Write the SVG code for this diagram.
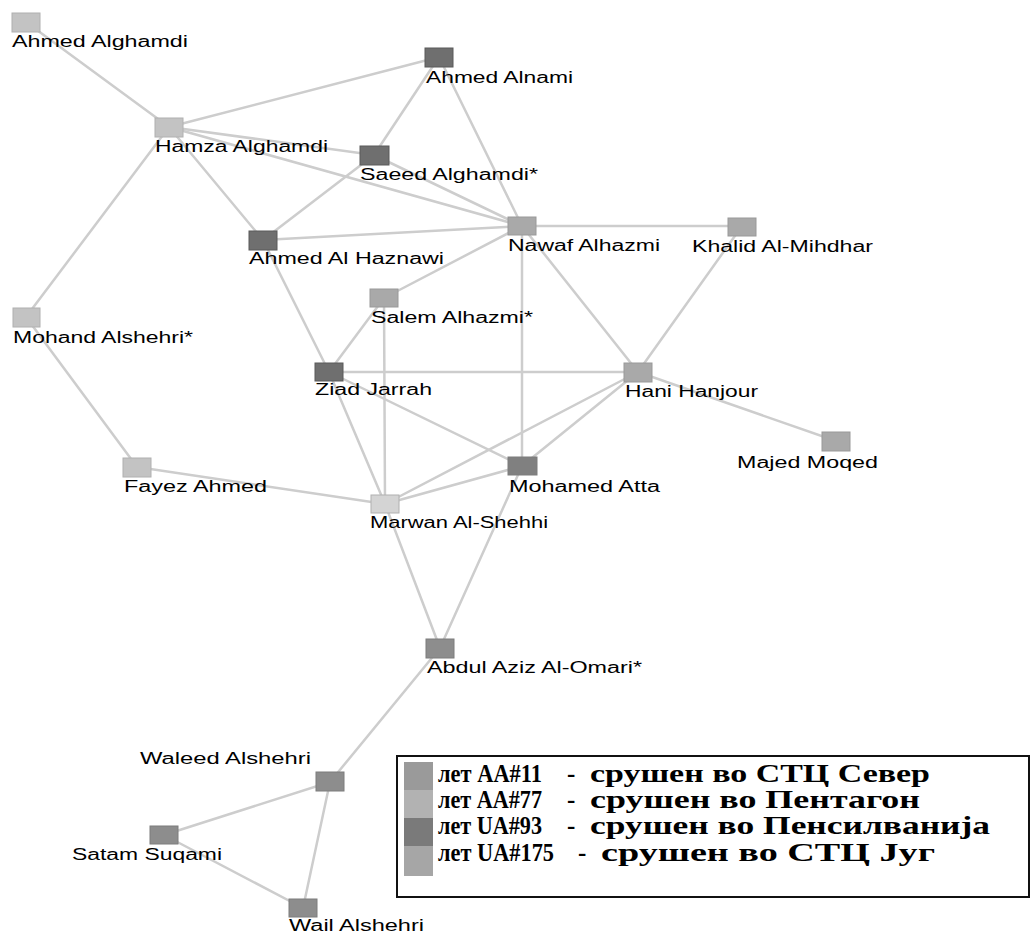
<svg xmlns="http://www.w3.org/2000/svg" width="1034" height="934" viewBox="0 0 1034 934">
<style>
.e{stroke:#cdcdcd;stroke-width:2.5;fill:none;stroke-linecap:round}
.n{stroke-width:1}
.aa11{fill:#8d8d8d;stroke:#7d7d7d}
.aa77{fill:#a9a9a9;stroke:#999}
.ua93{fill:#6f6f6f;stroke:#5a5a5a}
.ua175{fill:#c3c3c3;stroke:#b0b0b0}
.l{font-family:"Liberation Sans",Arial,sans-serif;font-size:16px;fill:#000}
.lg{font-family:"Liberation Serif","Times New Roman",serif;font-size:25px;font-weight:bold;fill:#000}
</style>
<rect width="1034" height="934" fill="#fff"/>
<g id="connectors">
<line class="e" x1="26" y1="22" x2="169" y2="127"/>
<line class="e" x1="169" y1="127" x2="439" y2="57"/>
<line class="e" x1="169" y1="127" x2="374" y2="155"/>
<line class="e" x1="169" y1="127" x2="522" y2="226"/>
<line class="e" x1="169" y1="127" x2="263" y2="240"/>
<line class="e" x1="169" y1="127" x2="26" y2="317"/>
<line class="e" x1="439" y1="57" x2="374" y2="155"/>
<line class="e" x1="439" y1="57" x2="522" y2="226"/>
<line class="e" x1="374" y1="155" x2="522" y2="226"/>
<line class="e" x1="374" y1="155" x2="263" y2="240"/>
<line class="e" x1="263" y1="240" x2="522" y2="226"/>
<line class="e" x1="522" y1="226" x2="742" y2="226"/>
<line class="e" x1="522" y1="226" x2="384" y2="298"/>
<line class="e" x1="522" y1="226" x2="522" y2="466"/>
<line class="e" x1="522" y1="226" x2="638" y2="372"/>
<line class="e" x1="742" y1="226" x2="638" y2="372"/>
<line class="e" x1="263" y1="240" x2="329" y2="372"/>
<line class="e" x1="384" y1="298" x2="329" y2="372"/>
<line class="e" x1="384" y1="298" x2="385" y2="504"/>
<line class="e" x1="329" y1="372" x2="638" y2="372"/>
<line class="e" x1="329" y1="372" x2="522" y2="466"/>
<line class="e" x1="329" y1="372" x2="385" y2="504"/>
<line class="e" x1="638" y1="372" x2="385" y2="504"/>
<line class="e" x1="638" y1="372" x2="522" y2="466"/>
<line class="e" x1="638" y1="372" x2="836" y2="441"/>
<line class="e" x1="137" y1="467" x2="385" y2="504"/>
<line class="e" x1="137" y1="467" x2="26" y2="317"/>
<line class="e" x1="522" y1="466" x2="385" y2="504"/>
<line class="e" x1="522" y1="466" x2="440" y2="648"/>
<line class="e" x1="385" y1="504" x2="440" y2="648"/>
<line class="e" x1="440" y1="648" x2="330" y2="782"/>
<line class="e" x1="330" y1="782" x2="164" y2="835"/>
<line class="e" x1="330" y1="782" x2="303" y2="908"/>
<line class="e" x1="164" y1="835" x2="303" y2="908"/>
</g>
<g id="n-ahmed-alghamdi"><rect class="n ua175" x="12" y="13" width="28" height="19"/><text class="l" x="12" y="47" textLength="176" lengthAdjust="spacingAndGlyphs">Ahmed Alghamdi</text></g>
<g id="n-hamza-alghamdi"><rect class="n ua175" x="155" y="118" width="28" height="19"/><text class="l" x="155" y="152" textLength="173" lengthAdjust="spacingAndGlyphs">Hamza Alghamdi</text></g>
<g id="n-ahmed-alnami"><rect class="n ua93" x="425" y="48" width="28" height="19"/><text class="l" x="426" y="83" textLength="147" lengthAdjust="spacingAndGlyphs">Ahmed Alnami</text></g>
<g id="n-saeed-alghamdi"><rect class="n ua93" x="360" y="146" width="29" height="19"/><text class="l" x="360" y="180" textLength="178" lengthAdjust="spacingAndGlyphs">Saeed Alghamdi*</text></g>
<g id="n-nawaf-alhazmi"><rect class="n aa77" x="508" y="217" width="28" height="18"/><text class="l" x="508" y="251" textLength="152" lengthAdjust="spacingAndGlyphs">Nawaf Alhazmi</text></g>
<g id="n-khalid-al-mihdhar"><rect class="n aa77" x="728" y="218" width="28" height="18"/><text class="l" x="692" y="252" textLength="181" lengthAdjust="spacingAndGlyphs">Khalid Al-Mihdhar</text></g>
<g id="n-ahmed-al-haznawi"><rect class="n ua93" x="249" y="231" width="28" height="19"/><text class="l" x="249" y="264" textLength="195" lengthAdjust="spacingAndGlyphs">Ahmed Al Haznawi</text></g>
<g id="n-salem-alhazmi"><rect class="n aa77" x="370" y="289" width="28" height="18"/><text class="l" x="371" y="323" textLength="162" lengthAdjust="spacingAndGlyphs">Salem Alhazmi*</text></g>
<g id="n-mohand-alshehri"><rect class="n ua175" x="13" y="308" width="27" height="19"/><text class="l" x="13" y="343" textLength="180" lengthAdjust="spacingAndGlyphs">Mohand Alshehri*</text></g>
<g id="n-ziad-jarrah"><rect class="n ua93" x="315" y="363" width="28" height="18"/><text class="l" x="315" y="395" textLength="117" lengthAdjust="spacingAndGlyphs">Ziad Jarrah</text></g>
<g id="n-hani-hanjour"><rect class="n aa77" x="624" y="363" width="28" height="19"/><text class="l" x="625" y="397" textLength="133" lengthAdjust="spacingAndGlyphs">Hani Hanjour</text></g>
<g id="n-majed-moqed"><rect class="n aa77" x="822" y="432" width="28" height="19"/><text class="l" x="737" y="468" textLength="141" lengthAdjust="spacingAndGlyphs">Majed Moqed</text></g>
<g id="n-fayez-ahmed"><rect class="n ua175" x="123" y="458" width="28" height="19"/><text class="l" x="124" y="492" textLength="143" lengthAdjust="spacingAndGlyphs">Fayez Ahmed</text></g>
<g id="n-mohamed-atta"><rect class="n aa11" x="508" y="457" width="29" height="18" style="fill:#808080"/><text class="l" x="509" y="492" textLength="151" lengthAdjust="spacingAndGlyphs">Mohamed Atta</text></g>
<g id="n-marwan-al-shehhi"><rect class="n ua175" x="371" y="495" width="28" height="18" style="fill:#d4d4d4"/><text class="l" x="370" y="528" textLength="178" lengthAdjust="spacingAndGlyphs">Marwan Al-Shehhi</text></g>
<g id="n-abdul-aziz-al-omari"><rect class="n aa11" x="426" y="639" width="28" height="19"/><text class="l" x="427" y="673" textLength="215" lengthAdjust="spacingAndGlyphs">Abdul Aziz Al-Omari*</text></g>
<g id="n-waleed-alshehri"><rect class="n aa11" x="316" y="772" width="28" height="19"/><text class="l" x="140" y="764" textLength="171" lengthAdjust="spacingAndGlyphs">Waleed Alshehri</text></g>
<g id="n-satam-suqami"><rect class="n aa11" x="150" y="826" width="28" height="18"/><text class="l" x="72" y="860" textLength="150" lengthAdjust="spacingAndGlyphs">Satam Suqami</text></g>
<g id="n-wail-alshehri"><rect class="n aa11" x="289" y="899" width="28" height="18"/><text class="l" x="289" y="931" textLength="135" lengthAdjust="spacingAndGlyphs">Wail Alshehri</text></g>
<g id="legend">
<rect x="397" y="756" width="632" height="141" fill="#fff" stroke="#111" stroke-width="2"/>
<rect x="404" y="762" width="29" height="28" fill="#9a9a9a"/>
<rect x="404" y="790" width="29" height="28" fill="#b2b2b2"/>
<rect x="404" y="818" width="29" height="28" fill="#7a7a7a"/>
<rect x="404" y="846" width="29" height="30" fill="#a6a6a6"/>
<text class="lg" x="438" y="782" textLength="104" lengthAdjust="spacingAndGlyphs">лет AA#11</text>
<text class="lg" x="567" y="782">-</text>
<text class="lg" x="590" y="782" textLength="340" lengthAdjust="spacingAndGlyphs">срушен во СТЦ  Север</text>
<text class="lg" x="438" y="808" textLength="104" lengthAdjust="spacingAndGlyphs">лет AA#77</text>
<text class="lg" x="567" y="808">-</text>
<text class="lg" x="590" y="808" textLength="330" lengthAdjust="spacingAndGlyphs">срушен во Пентагон</text>
<text class="lg" x="438" y="834" textLength="104" lengthAdjust="spacingAndGlyphs">лет UA#93</text>
<text class="lg" x="567" y="834">-</text>
<text class="lg" x="590" y="834" textLength="400" lengthAdjust="spacingAndGlyphs">срушен во Пенсилванија</text>
<text class="lg" x="438" y="861" textLength="116" lengthAdjust="spacingAndGlyphs">лет UA#175</text>
<text class="lg" x="578" y="861">-</text>
<text class="lg" x="601" y="861" textLength="334" lengthAdjust="spacingAndGlyphs">срушен во СТЦ Југ</text>
</g>
</svg>
